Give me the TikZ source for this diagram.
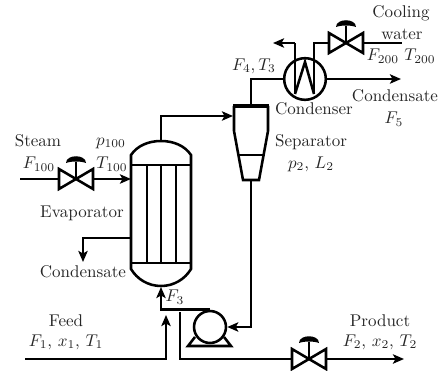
\documentclass[tikz,border=0pt]{standalone}
\usetikzlibrary{arrows.meta}
\tikzset{
  pipe/.style={line width=1.5pt,line join=miter},
  flow/.style={pipe,-{Stealth[length=6.5pt,width=5.5pt,inset=1.5pt]}},
  lbl/.style={inner sep=0pt,text=black!85,font=\fontsize{10}{12}\selectfont},
  roundunit/.style={circle,draw,line width=1.5pt,inner sep=0pt,fill=white},
}
\newcommand{\myvalve}[2]{%
  \draw[pipe] (#1-17,#2-10) -- (#1+17,#2+10) -- (#1+17,#2-10) -- (#1-17,#2+10) -- cycle;
  \draw[pipe] (#1,#2) -- (#1,#2-17);
  \fill[even odd rule] (#1-10,#2-16) .. controls (#1-10,#2-25) and (#1+10,#2-25) .. (#1+10,#2-16) .. controls (#1+5,#2-18) and (#1-5,#2-18) .. cycle;
}
\begin{document}
\begin{tikzpicture}[x=0.588pt,y=-0.588pt]
\useasboundingbox (0,0) rectangle (440,371);
% coordinates
\coordinate (steamin) at (20,179);
\coordinate (v1l) at (59,179);
\coordinate (v1r) at (93,179);
\coordinate (evapin) at (131,179);
\coordinate (evapapex) at (161,141);
\coordinate (evapbot) at (161,287);
\coordinate (sepin) at (233,116);
\coordinate (septop) at (251,106);
\coordinate (sepbot) at (251,180);
\coordinate (condout) at (131,238);
\coordinate (condtip) at (83,262);
\coordinate (vent) at (273,43);
\coordinate (v2l) at (329,43);
\coordinate (v2r) at (363,43);
\coordinate (cwin) at (402,43);
\coordinate (condsat) at (401,79);
\coordinate (feedin) at (25,359);
\coordinate (feedtip) at (166,315);
\coordinate (prodtee) at (180,312);
\coordinate (v3l) at (292,359);
\coordinate (v3r) at (326,359);
\coordinate (prodout) at (404,359);
% evaporator
\draw[pipe] (131,269) -- (131,155) .. controls (137,146) and (148,141) .. (evapapex) .. controls (174,141) and (185,146) .. (191,155) -- (191,269) .. controls (185,279) and (174,286) .. (161,286) .. controls (148,286) and (137,279) .. cycle;
\draw[pipe] (131,165) -- (191,165) (131,263) -- (191,263);
\draw[pipe] (147,165) -- (147,263) (161,165) -- (161,263) (176,165) -- (176,263);
% separator
\draw[pipe] (234,106) -- (234,131) -- (243,180) -- (259,180) -- (268,131) -- (268,106);
\draw[line width=2pt] (233,106) -- (269,106);
\draw[pipe] (238,155) -- (264,155);
% condenser
\node[roundunit,minimum size=24.5pt] (cond) at (305,79) {};
\draw[pipe] (295,94) -- (305,62) -- (314,94);
\draw[pipe] (295,94) -- (295,43);
% pump
\node[roundunit,minimum size=18.8pt] (pump) at (210,327) {};
\draw[pipe] (195,337) -- (188,346) -- (231,346) -- (224,337);
% valves
\myvalve{76}{179}
\myvalve{346}{43}
\myvalve{309}{359}
% connectors
\draw[pipe] (steamin) -- (v1l);
\draw[flow] (v1r) -- (evapin);
\draw[flow] (evapapex) |- (sepin);
\draw[flow] (condout) -| (condtip);
\draw[pipe] (septop) |- (cond.west);
\draw[flow] (cond.east) -- (condsat);
\draw[flow] (295,43) -- (vent);
\draw[pipe] (314,94) |- (v2l);
\draw[pipe] (v2r) -- (cwin);
\draw[flow] (sepbot) |- (pump.east);
\draw[flow] (feedin) -| (feedtip);
\draw[flow] (pump.north) -| (evapbot);
\draw[pipe] (prodtee) |- (v3l);
\draw[flow] (v3r) -- (prodout);
% labels
\node[lbl] (t1) at (38,141) {Steam};
\node[lbl] (t2) at (39,164) {$F_{100}$};
\node[lbl] (t3) at (111,143) {$p_{100}$};
\node[lbl] (t4) at (112,164) {$T_{100}$};
\node[lbl] (t5) at (82,213) {Evaporator};
\node[lbl] (t6) at (83,272) {Condensate};
\node[lbl] (t7) at (175,297) {$F_3$};
\node[lbl] (t8) at (66,321) {Feed};
\node[lbl] (t9) at (66,342) {$F_1$, $x_1$, $T_1$};
\node[lbl] (t10) at (380,321) {Product};
\node[lbl] (t11) at (380,342) {$F_2$, $x_2$, $T_2$};
\node[lbl] (t12) at (311,142) {Separator};
\node[lbl] (t13) at (311,164) {$p_2$, $L_2$};
\node[lbl] (t14) at (314,109) {Condenser};
\node[lbl] (t15) at (254,66) {$F_4, T_3$};
\node[lbl] (t16) at (395,96) {Condensate};
\node[lbl] (t17) at (394,119) {$F_5$};
\node[lbl] (t18) at (401,13) {Cooling};
\node[lbl] (t19) at (402,34) {water};
\node[lbl] (t20) at (383,56) {$F_{200}$};
\node[lbl] (t21) at (420,56) {$T_{200}$};
\end{tikzpicture}
\end{document}
